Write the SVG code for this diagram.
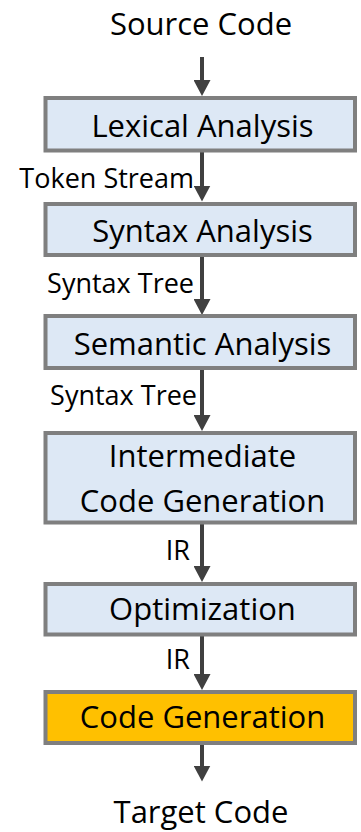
<svg xmlns="http://www.w3.org/2000/svg" width="361" height="832" viewBox="0 0 361 832">
<style>
  text { font-family: "Open Sans", "Noto Sans", "Liberation Sans", sans-serif; fill: #000; }
  .main { font-size: 31px; text-anchor: middle; }
  .lbl { font-size: 27px; text-anchor: end; }
  .box { fill: #dde8f5; stroke: #7f7f7f; stroke-width: 4; }
  .hl { fill: #ffc000; stroke: #7f7f7f; stroke-width: 4; }
  .conn { stroke: #404040; stroke-width: 4; fill: none; marker-end: url(#ah); }
</style>
<defs>
  <marker id="ah" markerUnits="userSpaceOnUse" viewBox="0 0 16 17" markerWidth="16" markerHeight="17" refX="6" refY="8.5" orient="auto">
    <path d="M0,0 L16,8.5 L0,17 z" fill="#404040"/>
  </marker>
</defs>
<g id="connectors">
  <line class="conn" x1="202" y1="57" x2="202" y2="86"/>
  <line class="conn" x1="202" y1="152" x2="202" y2="191.5"/>
  <line class="conn" x1="202" y1="256" x2="202" y2="305"/>
  <line class="conn" x1="202" y1="369" x2="202" y2="421"/>
  <line class="conn" x1="202" y1="524" x2="202" y2="572"/>
  <line class="conn" x1="202" y1="636" x2="202" y2="680"/>
  <line class="conn" x1="202" y1="745" x2="202" y2="771.5"/>
  <text class="lbl" x="194" y="188">Token Stream</text>
  <text class="lbl" x="194" y="293">Syntax Tree</text>
  <text class="lbl" x="197" y="405">Syntax Tree</text>
  <text class="lbl" x="190" y="560">IR</text>
  <text class="lbl" x="190" y="669">IR</text>
</g>
<g id="source">
  <text class="main" x="201" y="35">Source Code</text>
</g>
<g id="lexical">
  <rect class="box" x="45.5" y="98" width="309.5" height="52.5"/>
  <text class="main" x="202.5" y="137">Lexical Analysis</text>
</g>
<g id="syntax">
  <rect class="box" x="45.5" y="204" width="309.5" height="51"/>
  <text class="main" x="202.5" y="242">Syntax Analysis</text>
</g>
<g id="semantic">
  <rect class="box" x="45.5" y="316" width="309.5" height="52"/>
  <text class="main" x="202.5" y="355">Semantic Analysis</text>
</g>
<g id="intermediate">
  <rect class="box" x="45.5" y="433" width="309.5" height="89.5"/>
  <text class="main" x="202.5" y="467">Intermediate</text>
  <text class="main" x="202.5" y="512">Code Generation</text>
</g>
<g id="optimization">
  <rect class="box" x="45.5" y="584" width="309.5" height="50.5"/>
  <text class="main" x="202.5" y="620">Optimization</text>
</g>
<g id="codegen">
  <rect class="hl" x="45.5" y="692" width="309.5" height="51"/>
  <text class="main" x="202.5" y="728">Code Generation</text>
</g>
<g id="target">
  <text class="main" x="201" y="823">Target Code</text>
</g>
</svg>
